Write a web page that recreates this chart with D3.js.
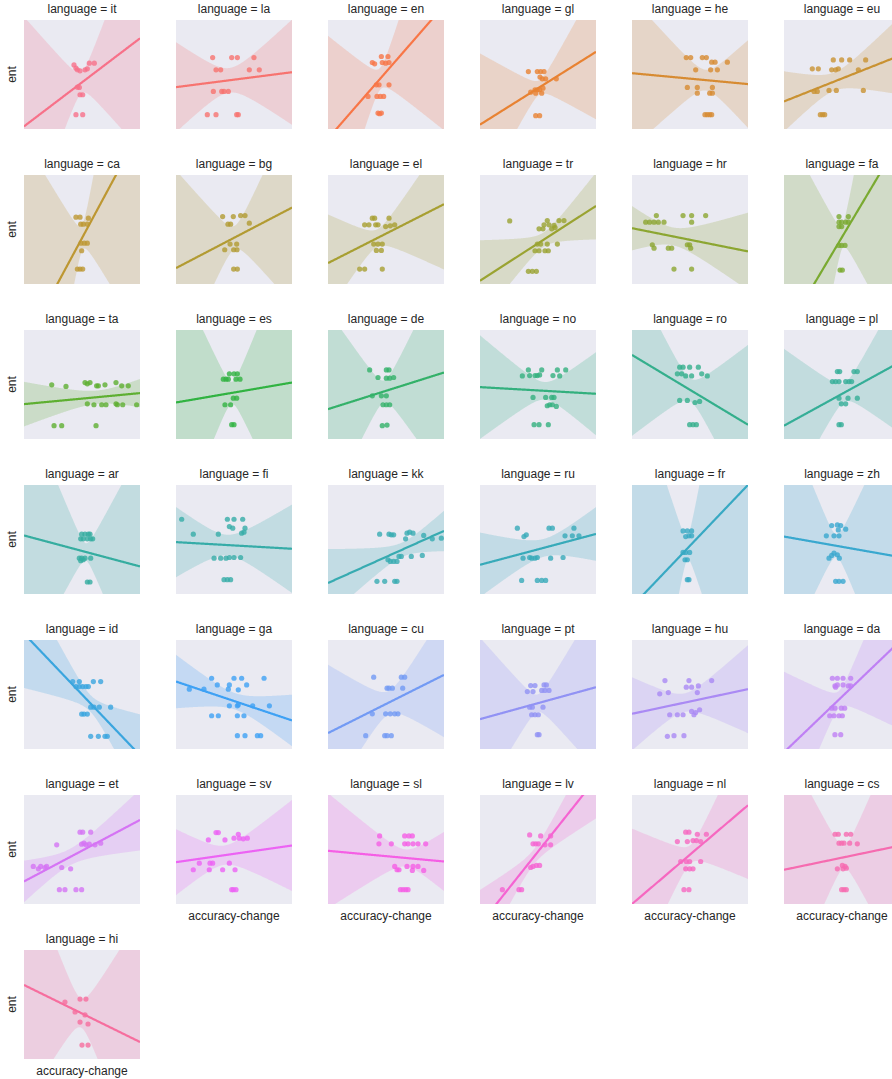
<!DOCTYPE html>
<html>
<head>
<meta charset="utf-8">
<script src="https://cdn.jsdelivr.net/npm/d3@7"></script>
<style>
body { margin: 0; background: #fff; }
svg { display: block; }
text { font-family: "Liberation Sans", Arial, sans-serif; fill: #262626; }
</style>
</head>
<body>
<div id="chart"></div>
<script>
const languages = ["it", "la", "en", "gl", "he", "eu", "ca", "bg", "el", "tr", "hr", "fa",
    "ta", "es", "de", "no", "ro", "pl", "ar", "fi", "kk", "ru", "fr", "zh",
    "id", "ga", "cu", "pt", "hu", "da", "et", "sv", "sl", "lv", "nl", "cs", "hi"]

// accuracy-change per language (x, normalised to the shared axis)
const accuracyChange = [
    [43.1, 44.8, 46.0, 48.3, 52.6, 54.6, 56.3, 60.6, 46.0, 47.7, 48.3, 50.6, 44.8, 50.6],
    [31.6, 48.0, 52.9, 67.2, 34.5, 38.5, 63.2, 71.8, 32.2, 39.4, 41.4, 45.1, 27.0, 34.5, 52.3, 53.7],
    [38.2, 40.2, 46.0, 51.7, 46.8, 49.7, 52.6, 41.7, 44.0, 52.6, 34.5, 42.2, 45.1, 48.0, 43.1, 46.0, 44.5],
    [41.7, 49.4, 52.3, 55.2, 51.7, 53.7, 56.6, 65.8, 43.7, 47.4, 49.4, 51.4, 54.3, 48.0, 53.2, 48.0, 51.4],
    [46.8, 50.6, 60.6, 64.1, 68.7, 71.6, 82.2, 54.9, 67.8, 73.6, 47.7, 56.3, 69.3, 56.3, 67.0, 69.3, 62.9, 64.9, 67.0, 68.7],
    [24.4, 29.6, 42.5, 49.7, 56.6, 70.4, 41.1, 44.5, 46.8, 64.1, 25.9, 28.7, 38.8, 45.1, 68.4, 31.3, 33.3, 35.1],
    [44.8, 48.3, 55.5, 48.9, 51.1, 54.6, 49.1, 52.0, 54.6, 49.7, 46.0, 48.3, 50.6],
    [40.2, 49.4, 55.7, 59.5, 44.8, 47.1, 63.2, 46.6, 52.3, 42.0, 49.7, 52.6, 49.7, 52.9],
    [38.2, 40.2, 31.6, 35.3, 41.1, 43.1, 49.7, 52.6, 53.7, 57.5, 39.4, 43.1, 46.8, 41.7, 46.0, 27.3, 31.6, 46.8],
    [25.6, 58.0, 68.1, 72.4, 55.2, 59.5, 63.8, 50.9, 54.3, 61.8, 64.7, 49.4, 52.3, 58.0, 66.7, 47.4, 50.9, 56.0, 58.9, 41.7, 45.1, 48.6],
    [11.8, 15.2, 19.0, 22.7, 27.6, 21.0, 44.0, 51.4, 63.5, 51.4, 17.5, 19.0, 31.3, 34.2, 47.7, 49.7, 50.6, 36.2, 51.4],
    [47.4, 55.5, 47.4, 49.7, 53.2, 55.5, 47.4, 49.7, 47.4, 49.7, 52.6, 48.3, 50.3],
    [23.9, 36.2, 52.6, 54.6, 56.9, 62.6, 64.1, 69.8, 79.3, 84.2, 89.9, 54.6, 60.3, 67.0, 70.7, 79.3, 80.5, 85.1, 97.1, 25.9, 32.5, 62.1],
    [46.0, 50.0, 52.9, 40.8, 43.1, 45.1, 51.7, 55.2, 49.4, 52.3, 42.2, 47.1, 48.0, 50.0],
    [35.9, 50.3, 52.6, 43.1, 50.3, 53.2, 56.6, 38.2, 46.0, 50.3, 47.4, 50.3, 53.2, 46.8, 50.9],
    [36.5, 41.7, 42.8, 47.4, 49.4, 51.4, 53.2, 62.9, 66.7, 68.7, 73.9, 45.7, 56.6, 61.8, 63.8, 58.0, 60.1, 62.4, 65.8, 46.6, 50.9, 58.9],
    [41.1, 44.0, 49.7, 57.2, 39.1, 42.8, 46.3, 51.4, 60.1, 64.9, 41.1, 47.7, 54.3, 58.3, 49.7, 52.6, 55.5],
    [46.0, 48.0, 60.3, 63.2, 41.7, 44.5, 47.4, 53.2, 56.0, 58.3, 47.4, 55.2, 63.2, 49.4, 53.2, 47.4, 49.4],
    [49.7, 52.6, 55.5, 56.9, 48.9, 51.1, 54.6, 57.5, 59.2, 47.7, 49.7, 51.1, 48.9, 52.6, 57.5, 54.6, 56.9],
    [4.9, 44.3, 50.0, 57.5, 46.0, 48.9, 59.5, 14.9, 36.5, 56.6, 58.6, 32.8, 38.5, 43.1, 46.0, 50.0, 55.7, 41.4, 44.3, 47.1],
    [44.5, 52.6, 54.6, 56.6, 68.1, 70.4, 73.3, 66.9, 82.5, 89.9, 97.7, 51.7, 53.7, 56.6, 59.5, 61.2, 63.2, 71.8, 81.3, 42.2, 48.9, 57.5, 59.5],
    [32.2, 37.9, 39.9, 59.5, 62.4, 81.0, 73.3, 79.6, 85.3, 37.1, 42.8, 44.5, 47.4, 49.4, 60.9, 71.6, 35.9, 49.4, 53.2, 56.6],
    [44.0, 47.7, 51.4, 46.3, 49.1, 51.4, 44.0, 46.3, 49.7, 45.7, 47.7, 47.7, 49.1],
    [41.1, 46.0, 48.9, 46.8, 53.2, 36.5, 43.1, 47.4, 38.8, 41.1, 43.1, 46.0, 47.7, 44.5, 47.4, 50.9],
    [42.0, 47.7, 59.8, 66.1, 44.8, 47.7, 50.6, 53.4, 55.5, 57.5, 60.3, 64.9, 74.7, 49.7, 51.7, 54.6, 57.5, 64.1, 69.8, 71.8],
    [30.7, 50.0, 56.6, 75.9, 35.6, 46.0, 60.9, 11.5, 24.1, 45.1, 53.7, 46.0, 52.9, 53.7, 66.1, 80.5, 30.7, 36.5, 52.9, 58.6, 52.9, 59.5, 70.1, 73.0],
    [39.4, 63.2, 66.1, 50.9, 52.6, 55.5, 64.4, 38.2, 49.7, 53.7, 57.5, 60.3, 32.5, 48.9, 50.9, 54.6],
    [43.7, 47.4, 55.2, 57.2, 40.8, 45.7, 53.2, 56.0, 59.5, 42.8, 45.1, 54.3, 44.5, 47.4, 50.3, 49.4, 50.9],
    [28.4, 49.1, 68.7, 46.8, 51.4, 57.2, 23.9, 31.3, 56.3, 32.5, 39.1, 44.0, 51.4, 53.4, 58.3, 54.9, 30.5, 36.2, 44.8],
    [41.7, 46.0, 50.9, 57.5, 43.9, 46.0, 50.9, 55.5, 57.5, 44.5, 41.1, 43.9, 49.4, 52.3, 39.4, 43.1, 47.4, 50.3, 43.9, 48.9],
    [8.0, 12.4, 14.4, 18.1, 19.5, 28.2, 32.5, 40.2, 48.3, 50.6, 57.5, 49.7, 51.7, 53.4, 56.3, 61.2, 66.1, 30.5, 35.3, 44.8, 49.7],
    [27.9, 34.5, 36.5, 42.2, 50.0, 53.7, 54.6, 58.0, 61.5, 20.1, 29.3, 31.6, 46.0, 14.9, 28.7, 40.2, 50.9, 48.0, 49.4, 51.7],
    [44.5, 66.1, 69.8, 72.7, 43.9, 54.6, 66.1, 69.0, 73.3, 77.6, 84.2, 57.5, 59.5, 61.2, 68.1, 73.3, 77.6, 72.7, 82.5, 62.4, 64.7, 67.0, 69.0],
    [42.8, 52.3, 60.9, 45.7, 48.0, 50.3, 56.0, 60.9, 43.7, 45.7, 48.6, 51.4, 19.3, 33.6, 35.9],
    [39.1, 46.3, 49.1, 56.3, 64.1, 47.7, 52.6, 55.5, 59.2, 42.0, 46.8, 49.7, 59.2, 46.3, 49.7, 52.6, 44.8, 49.1],
    [44.0, 46.8, 53.7, 57.5, 47.4, 49.7, 51.7, 56.6, 63.2, 46.0, 50.3, 52.6, 53.7, 50.9, 49.7, 51.7, 53.7],
    [35.3, 48.3, 53.4, 44.0, 52.6, 48.3, 55.2, 50.0, 55.2]
]

// ent per language (y, normalised to the shared axis)
const ent = [
    [58.8, 55.8, 54.3, 53.4, 54.3, 55.2, 60.4, 60.4, 38.4, 38.1, 31.4, 31.4, 13.1, 13.1],
    [65.5, 65.5, 65.5, 65.5, 54.3, 54.3, 54.3, 54.3, 34.5, 34.5, 34.5, 34.5, 13.1, 13.1, 13.1, 13.1],
    [61.0, 59.8, 66.5, 66.5, 61.0, 60.4, 61.0, 40.5, 40.5, 40.5, 29.9, 29.9, 29.9, 29.9, 14.6, 14.6, 14.0],
    [52.7, 52.7, 52.7, 52.7, 47.6, 46.0, 46.0, 46.0, 33.8, 36.0, 36.0, 36.0, 37.5, 32.9, 32.9, 12.2, 12.2],
    [65.5, 65.5, 65.5, 65.5, 61.3, 61.3, 61.3, 54.3, 54.3, 54.3, 38.1, 38.1, 38.1, 32.9, 32.9, 32.9, 13.1, 13.1, 13.1, 13.1],
    [55.2, 55.2, 63.4, 63.4, 63.4, 63.4, 54.3, 54.3, 55.2, 54.3, 34.5, 34.5, 35.4, 35.4, 35.4, 13.1, 13.1, 13.1],
    [61.3, 61.3, 60.4, 54.9, 54.9, 54.9, 37.5, 37.5, 37.5, 30.5, 13.7, 13.7, 13.7],
    [61.9, 61.9, 62.8, 62.8, 54.9, 54.9, 55.8, 36.6, 36.6, 31.4, 31.4, 31.4, 13.7, 13.7],
    [60.4, 60.4, 54.3, 54.3, 54.3, 54.3, 52.7, 60.4, 53.4, 54.3, 36.6, 36.6, 36.6, 30.8, 30.8, 13.7, 13.7, 13.7],
    [57.9, 58.2, 58.2, 58.2, 54.3, 54.3, 53.7, 50.6, 50.6, 50.6, 51.8, 36.6, 36.6, 36.6, 36.6, 30.5, 30.5, 30.5, 30.5, 11.6, 11.6, 11.6],
    [56.7, 56.7, 56.7, 56.7, 56.7, 62.8, 62.8, 62.8, 62.8, 56.7, 36.0, 32.9, 32.9, 32.9, 36.0, 36.0, 32.9, 13.7, 13.7],
    [61.9, 61.9, 56.7, 56.7, 56.7, 56.7, 52.7, 52.7, 35.4, 35.4, 35.4, 12.8, 12.8],
    [49.7, 48.2, 51.8, 50.6, 51.8, 48.8, 48.8, 49.7, 51.8, 48.8, 48.8, 32.3, 31.4, 31.4, 31.4, 32.3, 31.4, 31.4, 31.4, 12.2, 12.2, 12.2],
    [59.8, 59.8, 59.8, 54.9, 54.9, 54.9, 54.9, 54.9, 37.5, 37.5, 31.4, 31.4, 13.1, 13.1],
    [63.4, 63.4, 63.4, 56.4, 55.8, 55.8, 56.4, 39.6, 39.6, 39.6, 31.4, 31.4, 31.4, 12.2, 12.8],
    [57.9, 63.4, 58.2, 58.2, 58.2, 58.8, 63.4, 58.2, 63.4, 57.9, 63.4, 38.1, 38.1, 38.1, 38.1, 30.5, 31.4, 31.4, 29.9, 13.1, 13.1, 13.1],
    [65.9, 65.9, 65.9, 65.9, 59.8, 59.8, 57.9, 57.9, 59.8, 57.9, 35.4, 35.4, 33.5, 34.5, 13.1, 13.1, 13.1],
    [61.9, 61.9, 61.9, 61.9, 52.7, 52.7, 52.7, 52.7, 52.7, 52.7, 37.5, 37.5, 37.5, 32.3, 32.3, 13.1, 13.1],
    [54.9, 54.9, 54.9, 54.9, 50.6, 50.6, 50.6, 50.6, 50.6, 32.9, 32.9, 31.4, 30.5, 32.9, 32.9, 11.0, 11.0],
    [68.6, 68.6, 68.6, 68.6, 61.9, 60.4, 60.4, 54.9, 54.9, 55.8, 56.7, 32.9, 32.9, 32.9, 33.5, 33.5, 33.5, 13.1, 13.1, 13.1],
    [54.9, 54.9, 54.3, 54.3, 55.8, 56.7, 55.8, 50.6, 53.7, 50.6, 51.2, 31.4, 29.9, 29.9, 29.9, 34.5, 34.5, 34.5, 35.4, 11.6, 11.6, 11.6, 11.6],
    [60.4, 52.7, 54.3, 60.4, 60.4, 60.4, 53.4, 53.4, 53.4, 32.9, 33.5, 32.9, 32.9, 33.5, 32.9, 33.5, 12.5, 12.5, 12.5, 12.5],
    [57.9, 57.9, 57.9, 52.7, 53.4, 53.4, 38.1, 38.1, 38.1, 31.4, 31.4, 13.1, 13.1],
    [62.8, 63.4, 62.8, 58.8, 59.5, 53.4, 53.4, 53.4, 32.9, 35.4, 37.5, 36.0, 32.9, 11.6, 11.6, 11.6],
    [61.9, 61.9, 61.9, 61.9, 57.3, 57.3, 57.3, 57.3, 57.3, 38.4, 38.4, 38.4, 38.4, 32.0, 32.0, 32.0, 11.6, 11.6, 11.6, 11.6],
    [64.9, 64.9, 64.9, 64.9, 58.8, 58.8, 58.8, 54.9, 54.9, 54.9, 54.3, 39.6, 39.6, 40.5, 39.6, 39.6, 30.5, 30.5, 30.5, 30.5, 12.2, 12.2, 12.2, 12.2],
    [65.9, 65.9, 65.9, 55.8, 55.8, 55.8, 55.8, 32.3, 32.3, 32.3, 32.3, 32.3, 12.2, 12.2, 12.2, 12.2],
    [58.2, 58.2, 58.8, 58.8, 52.7, 52.7, 53.7, 53.7, 53.7, 38.4, 38.4, 38.4, 31.4, 31.4, 31.4, 13.1, 13.1],
    [62.8, 62.8, 62.8, 56.7, 56.7, 57.9, 50.6, 51.8, 51.8, 31.4, 31.4, 31.4, 34.5, 31.4, 36.0, 33.5, 11.6, 12.2, 12.2],
    [64.9, 64.9, 64.9, 64.9, 57.9, 58.8, 58.8, 57.9, 57.9, 56.7, 37.5, 37.5, 37.5, 37.5, 30.5, 30.5, 30.5, 30.5, 13.1, 13.1],
    [34.5, 32.3, 34.5, 33.5, 34.5, 54.3, 33.5, 32.3, 65.9, 65.9, 65.9, 54.9, 55.8, 54.3, 54.9, 54.3, 55.8, 13.1, 13.1, 13.1, 13.1],
    [58.8, 65.5, 65.5, 58.8, 60.4, 64.0, 60.4, 59.8, 60.4, 37.5, 37.5, 37.5, 37.5, 31.4, 31.4, 31.4, 31.4, 13.1, 13.1, 13.1],
    [62.5, 62.5, 62.5, 62.5, 55.2, 55.2, 55.2, 55.2, 55.2, 55.2, 55.2, 34.5, 31.4, 31.4, 34.5, 34.5, 34.5, 30.8, 30.8, 13.1, 13.1, 13.1, 13.1],
    [63.4, 62.5, 62.5, 55.2, 55.2, 55.2, 54.3, 54.3, 33.5, 34.5, 35.4, 35.4, 13.1, 13.1, 13.1],
    [57.3, 65.9, 65.9, 64.0, 64.0, 57.3, 58.2, 58.2, 57.3, 39.0, 39.0, 39.0, 39.0, 32.3, 32.3, 32.3, 13.1, 13.1],
    [64.0, 64.0, 64.0, 64.0, 55.8, 55.8, 55.8, 55.8, 55.2, 32.3, 35.4, 34.5, 32.9, 32.3, 13.1, 13.1, 13.1],
    [52.3, 55.0, 55.0, 43.1, 40.4, 33.9, 32.1, 12.8, 12.8]
]

// fitted regression line, ent at the left and right ends of the accuracy-change axis
const fitStart = [2.4, 38.4, -8.8, 4.0, 51.2, 25.3, -56.7, 14.6, 19.2, 3.0, 51.2, -46.3,
    32.0, 33.5, 27.4, 47.6, 77.1, 12.2, 53.7, 47.6, 10.1, 26.8, -11.5, 52.7,
    105.8, 61.9, 14.6, 27.4, 32.3, -3.0, 20.7, 38.4, 48.8, -18.9, 0.0, 31.4, 67.9]
const fitEnd = [83.2, 52.1, 113.3, 70.8, 41.2, 67.4, 140.9, 70.1, 73.2, 71.6, 29.9, 132.3,
    42.1, 51.8, 61.0, 41.5, 13.1, 70.6, 25.3, 41.5, 57.9, 55.1, 100.1, 33.9,
    -5.8, 26.2, 68.0, 56.7, 54.9, 99.0, 77.1, 53.7, 39.0, 115.0, 90.6, 53.6, 15.6]

// Facet grid geometry
const ncol = 6
const panel = { "width": 116, "height": 109, "left": 24, "top": 20, "stepX": 152, "stepY": 155 }
const width = 892
const height = 1079

// seaborn husl palette (HSLuv -> sRGB)
const M = [
    [3.240969941904521, -1.537383177570093, -0.498610760293],
    [-0.96924363628087, 1.87596750150772, 0.041555057407175],
    [0.055630079696993, -0.20397695888897, 1.056971514242878]
]
const refU = 0.19783000664283, refV = 0.46831999493879
const kappa = 903.2962962, epsilon = 0.0088564516

function boundLines(L) {
    const sub1 = Math.pow(L + 16, 3) / 1560896
    const sub2 = sub1 > epsilon ? sub1 : L / kappa
    const lines = []
    for (const [m1, m2, m3] of M) {
        for (const t of [0, 1]) {
            const top1 = (284517 * m1 - 94839 * m3) * sub2
            const top2 = (838422 * m3 + 769860 * m2 + 731718 * m1) * L * sub2 - 769860 * t * L
            const bottom = (632260 * m3 - 126452 * m2) * sub2 + 126452 * t
            lines.push([top1 / bottom, top2 / bottom])
        }
    }
    return lines
}

function husl(H, S, L) {
    const hr = H / 360 * 2 * Math.PI
    let maxC = Infinity
    for (const [slope, intercept] of boundLines(L)) {
        const len = intercept / (Math.sin(hr) - slope * Math.cos(hr))
        if (len >= 0) maxC = Math.min(maxC, len)
    }
    const C = maxC / 100 * S
    const U = Math.cos(hr) * C, V = Math.sin(hr) * C
    const varU = U / (13 * L) + refU, varV = V / (13 * L) + refV
    const Y = L <= 8 ? L / kappa : Math.pow((L + 16) / 116, 3)
    const X = -(9 * Y * varU) / ((varU - 4) * varV - varU * varV)
    const Z = (9 * Y - 15 * varV * Y - varV * X) / (3 * varV)
    const gamma = (c) => c <= 0.0031308 ? 12.92 * c : 1.055 * Math.pow(c, 1 / 2.4) - 0.055
    const rgb = M.map(r => gamma(r[0] * X + r[1] * Y + r[2] * Z))
    return d3.rgb(...rgb.map(c => Math.max(0, Math.min(1, c)) * 255)).formatHex()
}

const palette = languages.map((d, i) => husl(((i / languages.length + 0.01) % 1) * 359, 0.9 * 99, 0.65 * 99))

// 95% confidence band around the fitted line
function tQuantile(df) {
    const z = 1.959964
    return z + (z ** 3 + z) / (4 * df) + (5 * z ** 5 + 16 * z ** 3 + 3 * z) / (96 * df * df)
}

function regression(xs, ys, y0, y1) {
    const n = xs.length
    const slope = (y1 - y0) / 100
    const predict = (x) => y0 + slope * x
    const mx = d3.mean(xs)
    const sxx = d3.sum(xs, x => (x - mx) ** 2)
    const sse = d3.sum(xs, (x, i) => (ys[i] - predict(x)) ** 2)
    const s = Math.sqrt(sse / (n - 2))
    const t = tQuantile(n - 2)
    return {
        "predict": predict,
        "half": (x) => t * s * Math.sqrt(1 / n + (x - mx) ** 2 / sxx)
    }
}

const scale = {
    "x": d3.scaleLinear().domain([0, 100]).range([0, panel.width]),
    "y": d3.scaleLinear().domain([0, 100]).range([panel.height, 0])
}

const svg = d3.select("#chart")
    .append("svg")
    .attr("width", width)
    .attr("height", height)

const grid = d3.range(0, 100.5, 0.5)

languages.forEach((lang, i) => {
    const col = i % ncol
    const row = Math.floor(i / ncol)
    const color = palette[i]
    const xs = accuracyChange[i]
    const ys = ent[i]
    const fit = regression(xs, ys, fitStart[i], fitEnd[i])

    const g = svg.append("g")
        .attr("transform", translate(panel.left + col * panel.stepX, panel.top + row * panel.stepY))

    g.append("clipPath")
        .attr("id", `clip-${lang}`)
        .append("rect")
        .attr("width", panel.width)
        .attr("height", panel.height)

    g.append("rect")
        .attr("width", panel.width)
        .attr("height", panel.height)
        .attr("fill", "#EAEAF2")

    const body = g.append("g").attr("clip-path", `url(#clip-${lang})`)

    body.append("g")
        .selectAll("circle")
        .data(xs)
        .join("circle")
        .attr("cx", d => scale.x(d))
        .attr("cy", (d, j) => scale.y(ys[j]))
        .attr("r", 2.6)
        .attr("fill", color)
        .attr("fill-opacity", 0.8)

    body.append("path")
        .datum(grid)
        .attr("d", d3.area()
            .x(d => scale.x(d))
            .y0(d => scale.y(fit.predict(d) - fit.half(d)))
            .y1(d => scale.y(fit.predict(d) + fit.half(d))))
        .attr("fill", color)
        .attr("fill-opacity", 0.22)

    body.append("path")
        .datum(grid)
        .attr("d", d3.line()
            .x(d => scale.x(d))
            .y(d => scale.y(fit.predict(d))))
        .attr("fill", "none")
        .attr("stroke", color)
        .attr("stroke-width", 2.2)

    g.append("text")
        .attr("x", panel.width / 2)
        .attr("y", -7)
        .attr("text-anchor", "middle")
        .attr("font-size", 12)
        .text(`language = ${lang}`)

    if (col === 0) {
        g.append("text")
            .attr("transform", translate(-8, panel.height / 2) + " rotate(-90)")
            .attr("text-anchor", "middle")
            .attr("font-size", 12)
            .text("ent")
    }

    // bottom panel of each column gets the x label
    if (i + ncol >= languages.length) {
        g.append("text")
            .attr("x", panel.width / 2)
            .attr("y", panel.height + 16)
            .attr("text-anchor", "middle")
            .attr("font-size", 12)
            .text("accuracy-change")
    }
})

function translate(x, y) {
    return `translate(${x},${y})`
}
</script>
</body>
</html>
